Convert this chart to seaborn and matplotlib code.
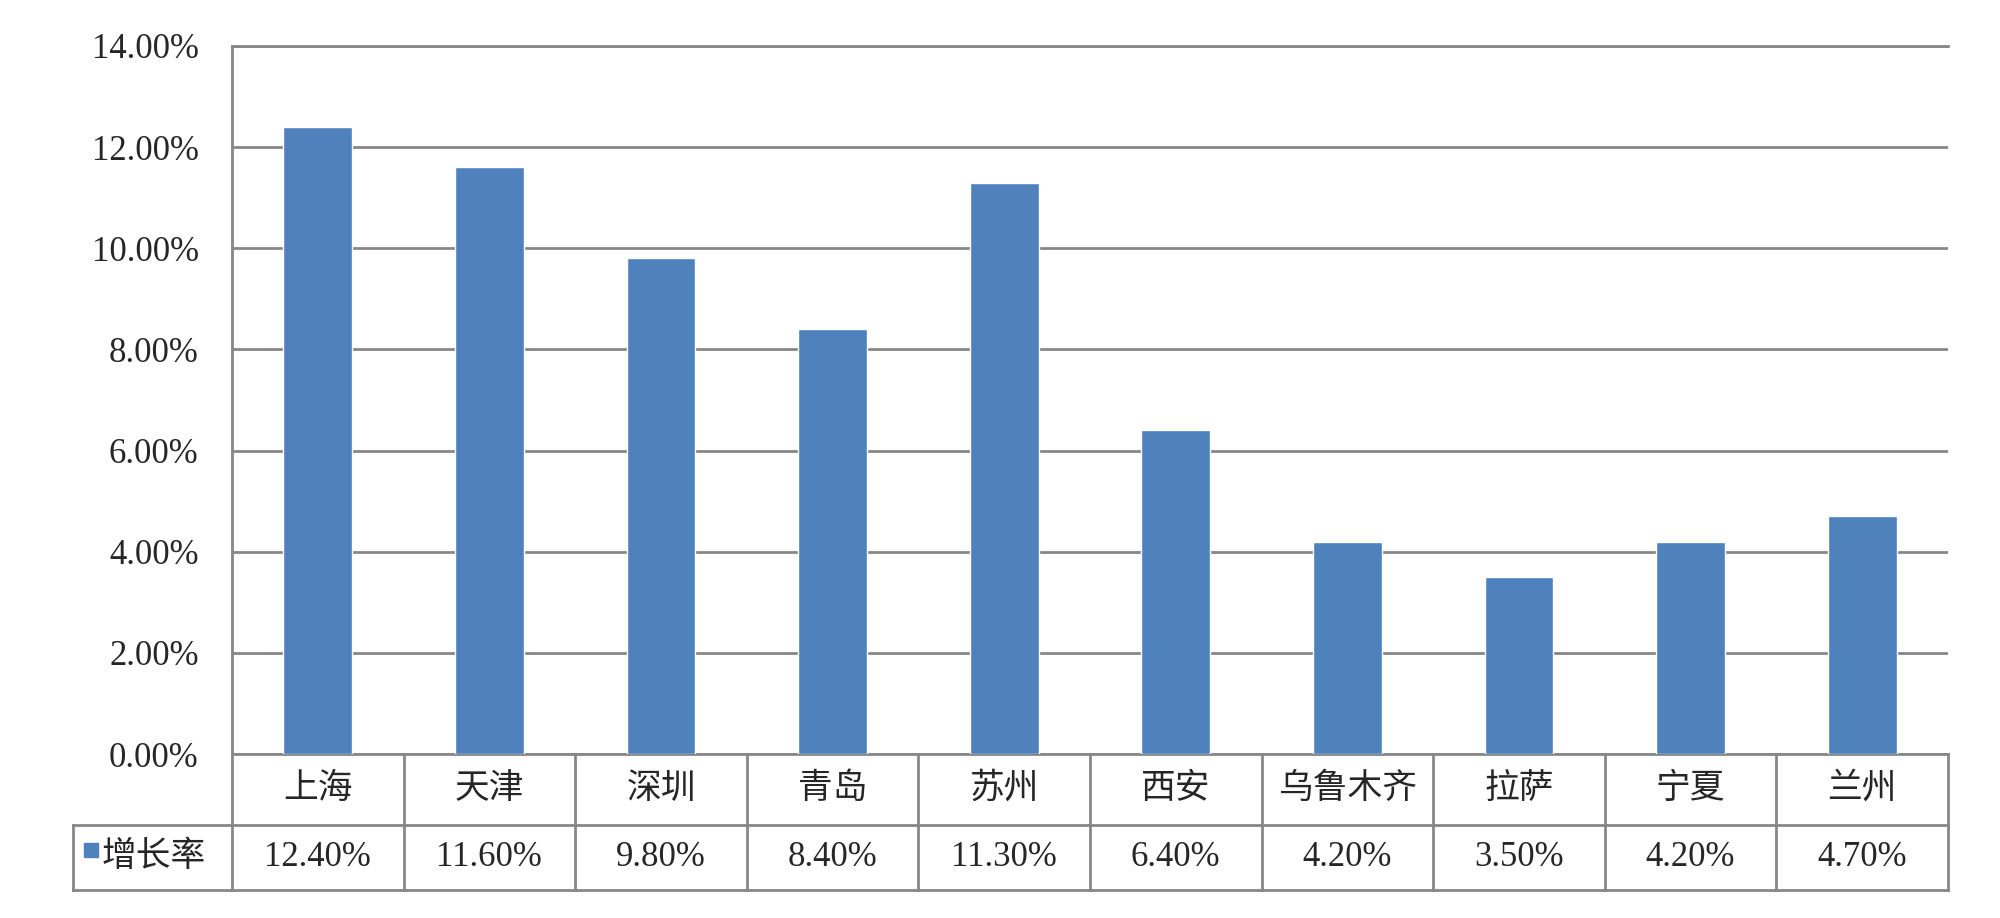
import seaborn as sns
import matplotlib.pyplot as plt
import pandas as pd
from matplotlib.ticker import FuncFormatter

# 数据
cities = ["上海", "天津", "深圳", "青岛", "苏州", "西安", "乌鲁木齐", "拉萨", "宁夏", "兰州"]
growth = [0.124, 0.116, 0.098, 0.084, 0.113, 0.064, 0.042, 0.035, 0.042, 0.047]
series_name = "增长率"
y_ticks = [0.00, 0.02, 0.04, 0.06, 0.08, 0.10, 0.12, 0.14]

bar_color = "#4F81BD"
line_color = "#878787"
lw = 2.0
fs = 25

sns.set_style("white")
plt.rcParams['font.family'] = ['Liberation Serif', 'Noto Sans CJK SC']

df = pd.DataFrame({"city": cities, "rate": growth})

fig = plt.figure(figsize=(20, 9.18), dpi=100)
ax = fig.add_axes([0.116, 0.1786, 0.858, 0.7713])

sns.barplot(data=df, x="city", y="rate", color=bar_color, saturation=1,
            width=0.4, ax=ax, zorder=3)

ax.set_ylim(0, 0.14)
ax.set_xlim(-0.5, len(cities) - 0.5)
ax.set_yticks(y_ticks)
ax.yaxis.set_major_formatter(FuncFormatter(lambda v, p: f"{v * 100:.2f}%"))
ax.tick_params(axis='y', length=0, pad=24, labelsize=fs)
ax.set_xticks([])
ax.set_xlabel("")
ax.set_ylabel("")
ax.grid(axis='y', color=line_color, linewidth=lw)
ax.set_axisbelow(True)

for side in ["left", "top", "bottom"]:
    ax.spines[side].set_color(line_color)
    ax.spines[side].set_linewidth(lw)
ax.spines["right"].set_visible(False)

# 数据表 (x 按类别, y 按坐标轴比例)
tr = ax.get_xaxis_transform()
n = len(cities)
row1 = -0.1003
row2 = -0.192
legend_left = -1.4266

for i in range(n + 1):
    ax.plot([i - 0.5, i - 0.5], [row2, 0], transform=tr, color=line_color,
            linewidth=lw, clip_on=False, solid_capstyle='projecting')
for yy in (row1, row2):
    ax.plot([legend_left, n - 0.5], [yy, yy], transform=tr, color=line_color,
            linewidth=lw, clip_on=False, solid_capstyle='projecting')
ax.plot([legend_left, legend_left], [row2, row1], transform=tr, color=line_color,
        linewidth=lw, clip_on=False, solid_capstyle='projecting')

for i, (c, v) in enumerate(zip(cities, growth)):
    ax.text(i, row1 / 2, c, transform=tr, ha='center', va='center', fontsize=fs)
    ax.text(i, (row1 + row2) / 2, f"{v * 100:.2f}%", transform=tr,
            ha='center', va='center', fontsize=fs)

ax.plot([-1.3217], [-0.1356], transform=tr, marker='s', markersize=9.5,
        color=bar_color, clip_on=False, linestyle='none')
ax.text(-1.2576, (row1 + row2) / 2, series_name, transform=tr, ha='left',
        va='center', fontsize=fs)

fig.savefig("out.png", dpi=100)
